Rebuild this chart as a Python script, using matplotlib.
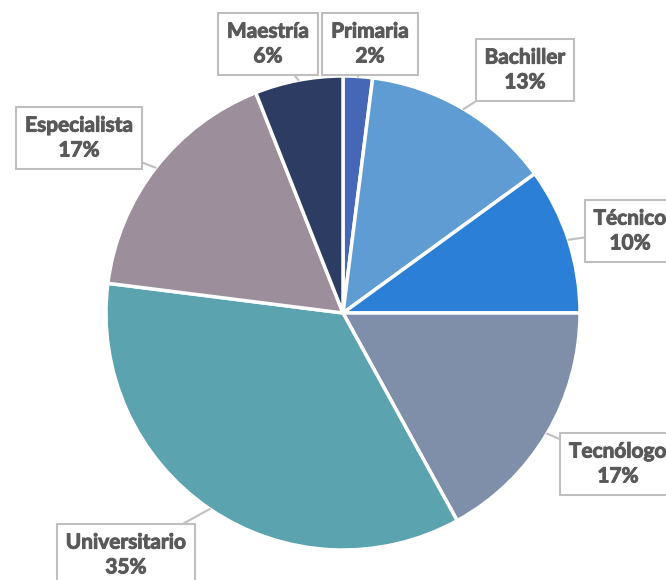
# Gráfico de torta: nivel de formación
import matplotlib.pyplot as plt
import matplotlib.patheffects as pe
import numpy as np

categorias = ["Primaria", "Bachiller", "Técnico", "Tecnólogo", "Universitario", "Especialista", "Maestría"]
porcentajes = [2, 13, 10, 17, 35, 17, 6]
colores = ["#4667B6", "#5E9CD3", "#2C7FD6", "#7F8FA9", "#5BA3AE", "#9C8E9B", "#2D3C63"]

# posiciones de las etiquetas (pixeles, origen arriba a la izquierda)
pos_etiquetas = [(370, 44), (525, 70), (630, 231), (618, 464), (126, 555), (79, 138), (268, 44)]

W, H = 666, 580
fig = plt.figure(figsize=(W / 100, H / 100), dpi=100)
ax = fig.add_axes([0, 0, 1, 1])

cx, cy, R = 343, H - 313, 237
wedges, _ = ax.pie(porcentajes, colors=colores, startangle=90, counterclock=False,
                   center=(cx, cy), radius=R,
                   wedgeprops=dict(edgecolor="white", linewidth=2.5))

ax.set_xlim(0, W)
ax.set_ylim(0, H)
ax.set_aspect("equal")
ax.axis("off")

for w, nombre, p, (tx, ty) in zip(wedges, categorias, porcentajes, pos_etiquetas):
    ang = np.deg2rad((w.theta1 + w.theta2) / 2)
    px, py = cx + R * np.cos(ang), cy + R * np.sin(ang)
    t = ax.annotate(f"{nombre}\n{p}%", xy=(px, py), xytext=(tx, H - ty),
                    ha="center", va="center", fontsize=15, fontweight="bold",
                    family=["Lato", "DejaVu Sans"], color="#595959", linespacing=1.3,
                    bbox=dict(boxstyle="square,pad=0.42", fc="white", ec="#BFBFBF", lw=1.5),
                    arrowprops=dict(arrowstyle="-", color="#BFBFBF", lw=1.5,
                                    shrinkA=0, shrinkB=0))
    # trazo un poco más grueso, como Calibri negrita
    t.set_path_effects([pe.withStroke(linewidth=0.7, foreground="#595959")])

fig.savefig("out.png", dpi=100)
